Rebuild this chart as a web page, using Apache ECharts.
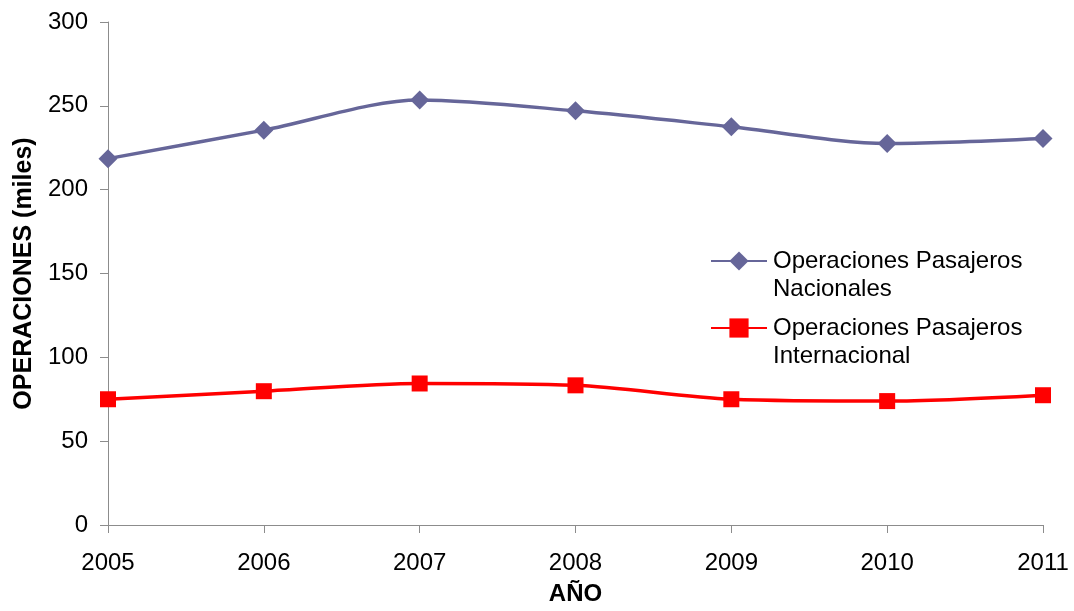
<!DOCTYPE html>
<html>
<head>
<meta charset="utf-8">
<script src="https://cdn.jsdelivr.net/npm/echarts@6/dist/echarts.min.js"></script>
<style>html,body{margin:0;padding:0;background:#fff;}#chart{width:1074px;height:611px;}</style>
</head>
<body>
<div id="chart"></div>
<script>
const years = ['2005','2006','2007','2008','2009','2010','2011'];
const nacionales = [218.5, 235.5, 253.5, 247, 237.5, 227.5, 230.5];
const internacional = [75, 79.8, 84.4, 83.3, 75, 73.9, 77.4];
const yTicks = [0, 50, 100, 150, 200, 250, 300];
const nameNac = 'Operaciones Pasajeros Nacionales';
const nameInt = 'Operaciones Pasajeros Internacional';

const font = '"Liberation Sans", Arial, sans-serif';
const axisColor = '#8c8c8c';
const chart = echarts.init(document.getElementById('chart'), null, {renderer: 'canvas'});

function legendCfg(name, top) {
  return {
    data: [name],
    left: 710, top: top, padding: 0,
    itemWidth: 56, itemHeight: 24,
    selectedMode: false,
    formatter: n => '\n' + n.replace(/^Operaciones Pasajeros /, 'Operaciones Pasajeros\n'),
    textStyle: {fontFamily: font, fontSize: 24, color: '#000', lineHeight: 28, padding: [0, 0, 0, 1]}
  };
}

chart.setOption({
  animation: false,
  backgroundColor: '#fff',
  textStyle: {fontFamily: font},
  grid: {left: 108, right: 31, top: 22, height: 508, containLabel: false},
  legend: [legendCfg(nameNac, 219), legendCfg(nameInt, 286)],
  xAxis: {
    type: 'category', data: years, boundaryGap: false,
    name: 'AÑO', nameLocation: 'middle', nameGap: 57,
    nameTextStyle: {fontFamily: font, fontSize: 24, fontWeight: 'bold', color: '#000'},
    axisLine: {lineStyle: {color: axisColor, width: 1}},
    axisTick: {show: true, length: 8, lineStyle: {color: axisColor}},
    axisLabel: {fontFamily: font, fontSize: 24, color: '#000', margin: 26}
  },
  yAxis: {
    type: 'value', min: yTicks[0], max: yTicks[yTicks.length - 1], interval: yTicks[1] - yTicks[0],
    name: 'OPERACIONES (miles)', nameLocation: 'middle', nameGap: 66,
    nameTextStyle: {fontFamily: font, fontSize: 25, fontWeight: 'bold', color: '#000'},
    axisLine: {show: true, lineStyle: {color: axisColor, width: 1}},
    axisTick: {show: true, length: 8, lineStyle: {color: axisColor}},
    splitLine: {show: false},
    axisLabel: {fontFamily: font, fontSize: 24, color: '#000', margin: 20}
  },
  series: [
    {
      name: nameNac, type: 'line', data: nacionales, smooth: 0.3,
      symbol: 'diamond', symbolSize: 19,
      lineStyle: {color: '#666699', width: 3.5},
      itemStyle: {color: '#666699'}
    },
    {
      name: nameInt, type: 'line', data: internacional, smooth: 0.3,
      symbol: 'rect', symbolSize: 16,
      lineStyle: {color: '#ff0000', width: 3.5},
      itemStyle: {color: '#ff0000'}
    }
  ]
});
</script>
</body>
</html>
